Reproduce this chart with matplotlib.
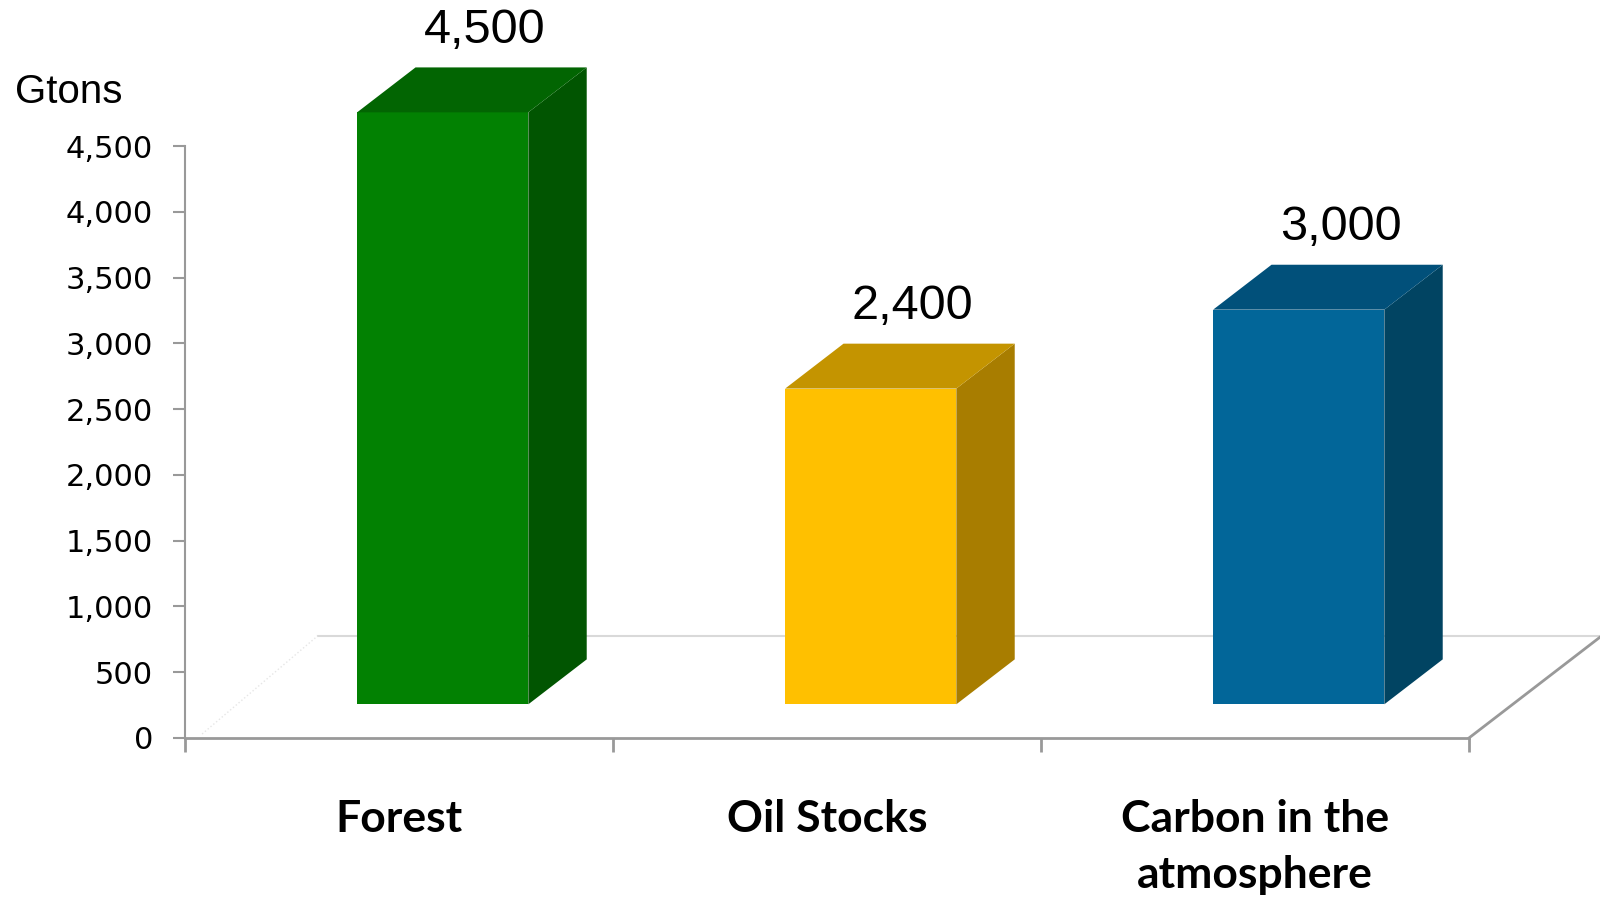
import matplotlib
matplotlib.use("Agg")
import matplotlib.pyplot as plt
from matplotlib.patches import Polygon
from matplotlib.ticker import FuncFormatter

# data
categories = ["Forest", "Oil Stocks", "Carbon in the\natmosphere"]
values = [4500, 2400, 3000]
front_cols = ["#028102", "#FFC000", "#026699"]
side_cols = ["#015501", "#A87D00", "#014462"]
top_cols = ["#026502", "#C49400", "#01507A"]

# fake 3d depth (in data units): full floor depth vector
DX, DY = 0.31, 776
T0, T1 = 0.33, 0.77
W = 0.40
xs = list(range(len(categories)))

fig = plt.figure(figsize=(16, 8.98), dpi=100)
ax = fig.add_axes([0.1156, 0.1782, 0.8025, 0.6592])
ax.set_xlim(-0.5, 2.5)
ax.set_ylim(0, 4500)

# floor
fl = Polygon([(-0.5, 0), (2.5, 0), (2.5 + DX, DY), (-0.5 + DX, DY)],
             closed=True, facecolor="white", edgecolor="none", clip_on=False)
ax.add_patch(fl)
ax.plot([-0.5 + DX, 2.5 + DX], [DY, DY], color="#d9d9d9", lw=1.5, clip_on=False)
ax.plot([2.5, 2.5 + DX], [0, DY], color="#999999", lw=2, clip_on=False)
ax.plot([-0.46, -0.5 + DX], [30, DY], color="#e6e6e6", lw=1, ls=":", clip_on=False)

# bars
for x, v, fc, sc, tc in zip(xs, values, front_cols, side_cols, top_cols):
    x0 = x - W / 2 + T0 * DX
    x1 = x0 + W
    b = T0 * DY
    ax.bar(x0 + W / 2, v, W, bottom=b, color=fc, clip_on=False, zorder=3)
    dx = (T1 - T0) * DX
    dy = (T1 - T0) * DY
    side = Polygon([(x1, b), (x1, b + v), (x1 + dx, b + v + dy), (x1 + dx, b + dy)],
                   closed=True, facecolor=sc, edgecolor="none", clip_on=False, zorder=3)
    top = Polygon([(x0, b + v), (x1, b + v), (x1 + dx, b + v + dy), (x0 + dx, b + v + dy)],
                  closed=True, facecolor=tc, edgecolor="none", clip_on=False, zorder=3)
    ax.add_patch(side)
    ax.add_patch(top)
    ax.text(x + 0.2, b + v + dy + 185, f"{v:,}", ha="center", va="baseline",
            fontsize=35, family="Liberation Sans", clip_on=False)

# axes styling
for s in ["top", "right"]:
    ax.spines[s].set_visible(False)
ax.spines["left"].set_color("#999999")
ax.spines["bottom"].set_color("#999999")
ax.spines["left"].set_linewidth(1.5)
ax.spines["bottom"].set_linewidth(2)

ax.set_yticks(range(0, 5000, 500))
ax.yaxis.set_major_formatter(FuncFormatter(lambda v, p: f"{int(v):,}"))
ax.tick_params(axis="y", length=9, width=1.5, color="#999999", pad=14,
               labelsize=22)
ax.set_xticks(xs)
ax.set_xticklabels(categories, fontsize=32, fontweight="bold", family="Lato",
                   linespacing=1.47)
ax.set_xticks([-0.5, 0.5, 1.5, 2.5], minor=True)
ax.tick_params(axis="x", which="major", length=0, pad=44)
ax.tick_params(axis="x", which="minor", length=10, width=2, color="#999999")

fig.text(0.0094, 0.898, "Gtons", fontsize=29, family="Liberation Sans",
         va="center", ha="left")

fig.savefig("out.png", dpi=100)
